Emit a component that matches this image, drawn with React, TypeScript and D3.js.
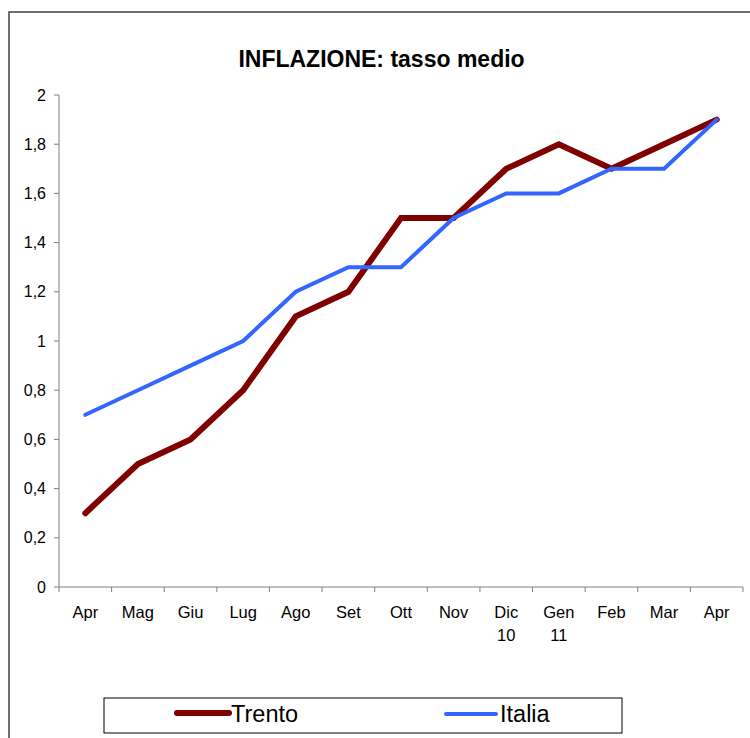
import React from "react";
import * as d3 from "d3";

const categories = ["Apr", "Mag", "Giu", "Lug", "Ago", "Set", "Ott", "Nov", "Dic", "Gen", "Feb", "Mar", "Apr"];
const subLabels = ["", "", "", "", "", "", "", "", "10", "11", "", "", ""];
const trento = [0.3, 0.5, 0.6, 0.8, 1.1, 1.2, 1.5, 1.5, 1.7, 1.8, 1.7, 1.8, 1.9];
const italia = [0.7, 0.8, 0.9, 1.0, 1.2, 1.3, 1.3, 1.5, 1.6, 1.6, 1.7, 1.7, 1.9];
const yTicks = [0, 0.2, 0.4, 0.6, 0.8, 1, 1.2, 1.4, 1.6, 1.8, 2];

const W = 750, H = 738;
const left = 59, right = 743, top = 95, bottom = 587;
const font = "Arial, 'Liberation Sans', sans-serif";

export default function App() {
  const idx = categories.map((_, i) => i);
  const x = d3.scaleBand<number>().domain(idx).range([left, right]);
  const y = d3.scaleLinear().domain([0, 2]).range([bottom, top]);
  const cx = (i: number) => (x(i) as number) + x.bandwidth() / 2;
  const line = d3.line<number>().x((_, i) => cx(i)).y((d) => y(d));
  const fmt = (v: number) => d3.format(".1~f")(v).replace(".", ",");

  return (
    <svg width={W} height={H} style={{ position: "absolute", left: 0, top: 0 }}>
      <rect x={0} y={0} width={W} height={H} fill="#fff" />
      <rect x={9} y={12} width={W + 20} height={H + 20} fill="none" stroke="#404040" strokeWidth={1.5} />
      <text x={381.5} y={67} textAnchor="middle" fontFamily={font} fontWeight="bold" fontSize={23} fill="#000">
        INFLAZIONE: tasso medio
      </text>
      {/* y axis */}
      <line x1={left} x2={left} y1={top} y2={bottom} stroke="#808080" strokeWidth={1} />
      {yTicks.map((t) => (
        <g key={t}>
          <line x1={left - 5} x2={left} y1={y(t)} y2={y(t)} stroke="#808080" />
          <text x={46} y={y(t) + 5.5} textAnchor="end" fontFamily={font} fontSize={16} fill="#000">
            {fmt(t)}
          </text>
        </g>
      ))}
      {/* x axis */}
      <line x1={left} x2={right} y1={bottom} y2={bottom} stroke="#808080" strokeWidth={1} />
      {idx.concat([categories.length]).map((i) => {
        const xx = i < categories.length ? (x(i) as number) : right;
        return <line key={"t" + i} x1={xx} x2={xx} y1={bottom} y2={bottom + 5} stroke="#808080" />;
      })}
      {categories.map((c, i) => (
        <g key={"l" + i}>
          <text x={cx(i)} y={617.5} textAnchor="middle" fontFamily={font} fontSize={16.5} fill="#000">
            {c}
          </text>
          {subLabels[i] && (
            <text x={cx(i)} y={640.5} textAnchor="middle" fontFamily={font} fontSize={16.5} fill="#000">
              {subLabels[i]}
            </text>
          )}
        </g>
      ))}
      <path d={line(trento) || ""} fill="none" stroke="#800000" strokeWidth={6} strokeLinejoin="miter" strokeLinecap="round" />
      <path d={line(italia) || ""} fill="none" stroke="#3366FF" strokeWidth={4} strokeLinejoin="miter" strokeLinecap="round" />
      {/* legend */}
      <rect x={104} y={698} width={518} height={35} fill="#fff" stroke="#000" strokeWidth={1} />
      <line x1={177} x2={229} y1={713} y2={713} stroke="#800000" strokeWidth={6} strokeLinecap="round" />
      <text x={231} y={722} fontFamily={font} fontSize={23.5} fill="#000">Trento</text>
      <line x1={446} x2={496} y1={714} y2={714} stroke="#3366FF" strokeWidth={4} strokeLinecap="round" />
      <text x={500} y={722} fontFamily={font} fontSize={23.5} fill="#000">Italia</text>
    </svg>
  );
}
